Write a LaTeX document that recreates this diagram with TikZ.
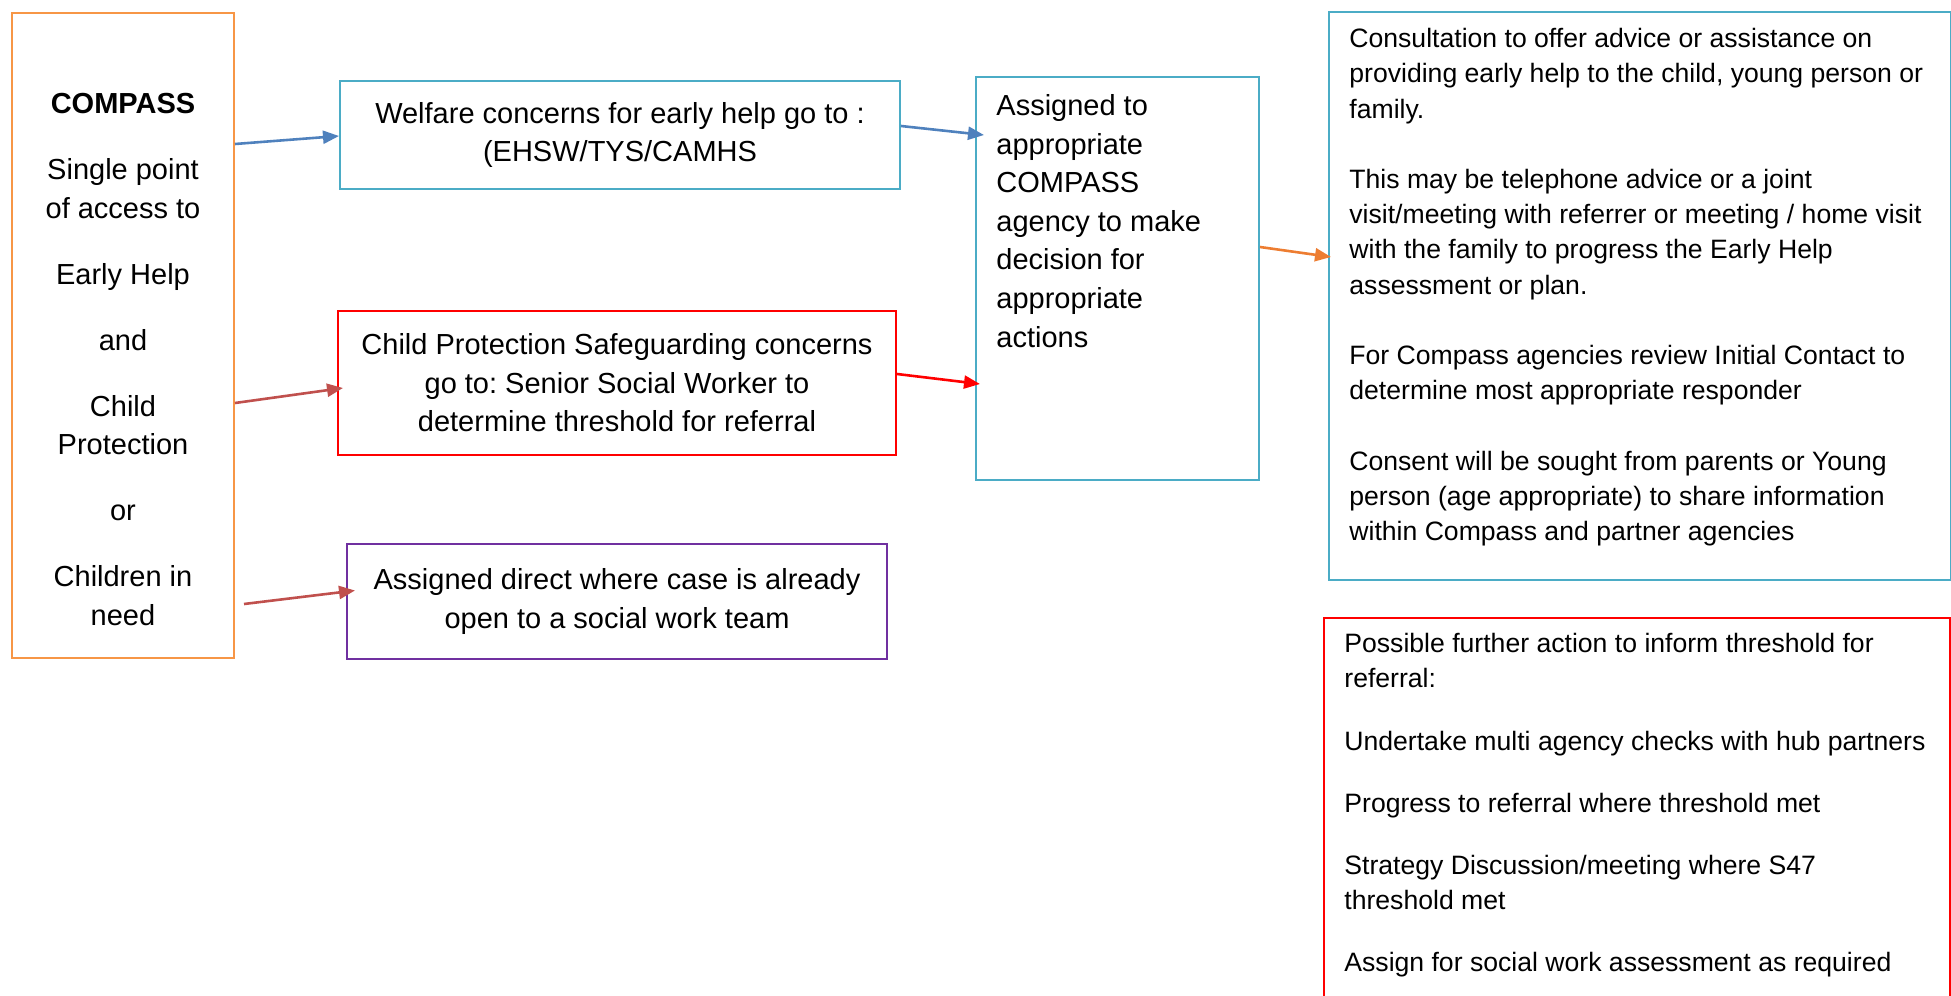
\documentclass[tikz,border=0pt]{standalone}
\usepackage{fontspec}
\setmainfont{Liberation Sans}
\usepackage{tikz}
\usetikzlibrary{arrows.meta,positioning}
\frenchspacing
\definecolor{hub-orange}{HTML}{F79646}
\definecolor{hub-aqua}{HTML}{4BACC6}
\definecolor{hub-red}{HTML}{FF0000}
\definecolor{hub-purple}{HTML}{7030A0}
\definecolor{link-blue}{HTML}{4F81BD}
\definecolor{link-red}{HTML}{C0504D}
\definecolor{link-orange}{HTML}{ED7D31}
\tikzset{
  hub-box/.style={draw, line width=1pt, anchor=north west, inner sep=0pt},
  hub-text/.style={font=\fontsize{14.5}{19.3}\selectfont, align=center},
  hub-note/.style={font=\fontsize{13.3}{17.6}\selectfont, align=left, inner sep=0pt},
  hub-arrow/.style={-{Triangle[length=8pt,width=6.5pt]}, line width=1.3pt}
}

\begin{document}
\begin{tikzpicture}[x=0.5pt, y=-0.5pt]
  \useasboundingbox (0,0) rectangle (1951,996);
  % boxes
  \node[hub-box, draw=hub-orange, minimum width=111pt, minimum height=322.5pt] (compass) at (11,12) {};
  \node[hub-box, hub-text, draw=hub-aqua, minimum width=280pt, minimum height=54pt] (welfare) at (339,80)
    {Welfare concerns for early help go to :\\(EHSW/TYS/CAMHS};
  \node[hub-box, hub-text, draw=hub-red, minimum width=279pt, minimum height=72pt] (protect) at (337,310)
    {Child Protection Safeguarding concerns\\go to: Senior Social Worker to\\determine threshold for referral};
  \node[hub-box, hub-text, draw=hub-purple, minimum width=270pt, minimum height=57.5pt] (direct) at (346,543)
    {Assigned direct where case is already\\open to a social work team};
  \node[hub-box, draw=hub-aqua, minimum width=141.5pt, minimum height=201.5pt] (assign) at (975,76) {};
  \node[hub-box, draw=hub-aqua, minimum width=311pt, minimum height=284pt] (consult) at (1328,11) {};
  \node[hub-box, draw=hub-red, minimum width=313pt, minimum height=193pt] (further) at (1323,617) {};

  % texts
  \node[hub-text, inner sep=0pt, anchor=north, below=40.5pt of compass.north] (compass-text)
    {\textbf{COMPASS}\\[13.7pt]Single point\\of access to\\[13.7pt]Early Help\\[13.7pt]and\\[13.7pt]Child\\Protection\\[13.7pt]or\\[13.7pt]Children in\\need};
  \node[hub-note, font=\fontsize{14.5}{19.3}\selectfont, below right=9pt and 10.5pt of assign.north west] (assign-text)
    {Assigned to\\appropriate\\COMPASS\\agency to make\\decision for\\appropriate\\actions};
  \node[hub-note, below right=8.5pt and 10.5pt of consult.north west] (consult-text)
    {Consultation to offer advice or assistance on\\providing early help to the child, young person or\\family.\\[17.6pt]
     This may be telephone advice or a joint\\visit/meeting with referrer or meeting / home visit\\with the family to progress the Early Help\\assessment or plan.\\[17.6pt]
     For Compass agencies review Initial Contact to\\determine most appropriate responder\\[17.6pt]
     Consent will be sought from parents or Young\\person (age appropriate) to share information\\within Compass and partner agencies};
  \node[hub-note, below right=8pt and 10.5pt of further.north west] (further-text)
    {Possible further action to inform threshold for\\referral:\\[13.5pt]
     Undertake multi agency checks with hub partners\\[13.5pt]
     Progress to referral where threshold met\\[13.5pt]
     Strategy Discussion/meeting where S47\\threshold met\\[13.5pt]
     Assign for social work assessment as required};

  % links
  \draw[hub-arrow, link-blue] ([yshift=-66pt]compass.north east) -- ([yshift=-0.5pt]welfare.west);
  \draw[hub-arrow, link-red] ([yshift=-195.5pt]compass.north east) -- ([xshift=3pt,yshift=-2.5pt]protect.west);
  \draw[hub-arrow, link-red] ([xshift=4.5pt,yshift=-296pt]compass.north east) -- ([xshift=4.5pt,yshift=5.5pt]direct.west);
  \draw[hub-arrow, link-blue] ([yshift=4.5pt]welfare.east) -- ([xshift=4.5pt,yshift=-29.5pt]assign.north west);
  \draw[hub-arrow, hub-red] ([yshift=4.5pt]protect.east) -- ([xshift=2.5pt,yshift=-154pt]assign.north west);
  \draw[hub-arrow, link-orange] ([yshift=-85.5pt]assign.north east) -- ([xshift=1.5pt,yshift=-123pt]consult.north west);
\end{tikzpicture}
\end{document}
